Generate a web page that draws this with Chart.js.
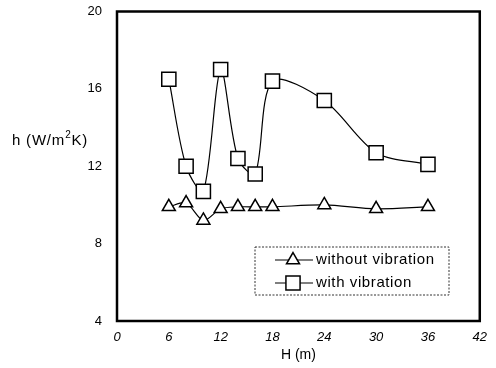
<!DOCTYPE html>
<html><head><meta charset="utf-8">
<script src="https://cdn.jsdelivr.net/npm/chart.js@4/dist/chart.umd.min.js"></script>
<style>html,body{margin:0;padding:0;background:#fff}#wrap{width:496px;height:368px;position:relative}</style>
</head><body><div id="wrap"><canvas id="c" width="496" height="368"></canvas></div>
<script>
const H = [6, 8, 10, 12, 14, 16, 18, 24, 30, 36];
const withoutVibration = [9.9, 10.1, 9.2, 9.8, 9.9, 9.9, 9.9, 10.0, 9.8, 9.9];
const withVibration = [16.5, 12.0, 10.7, 17.0, 12.4, 11.6, 16.4, 15.4, 12.7, 12.1];
const xTicks = [0, 6, 12, 18, 24, 30, 36, 42];
const yTicks = [4, 8, 12, 16, 20];
const seriesNames = ['without vibration', 'with vibration'];
const yTitleParts = ['h (W/m', '2', 'K)'];
const xTitle = 'H (m)';

const FONT = 'Liberation Sans, Arial, sans-serif';

const frame = {
  id: 'frame',
  afterDatasetsDraw(chart) {
    const a = chart.chartArea, ctx = chart.ctx;
    ctx.save();
    ctx.strokeStyle = '#000'; ctx.lineWidth = 2.5;
    ctx.strokeRect(a.left, a.top, a.right - a.left, a.bottom - a.top);
    // y title horizontal with superscript
    ctx.fillStyle = '#000';
    ctx.textAlign = 'left'; ctx.textBaseline = 'alphabetic';
    ctx.letterSpacing = '0.8px';
    ctx.font = '15px ' + FONT;
    let x = 12, base = 145;
    ctx.fillText(yTitleParts[0], x, base);
    x += ctx.measureText(yTitleParts[0]).width;
    ctx.font = '10px ' + FONT;
    ctx.fillText(yTitleParts[1], x, base - 7);
    x += ctx.measureText(yTitleParts[1]).width;
    ctx.font = '15px ' + FONT;
    ctx.fillText(yTitleParts[2], x, base);
    // legend
    const lx = 255, ly = 247, lw = 194, lh = 48;
    ctx.lineWidth = 1; ctx.setLineDash([2, 1.5]);
    ctx.strokeStyle = '#333';
    ctx.strokeRect(lx, ly, lw, lh);
    ctx.setLineDash([]);
    ctx.letterSpacing = '0.6px';
    chart.data.datasets.forEach((ds, i) => {
      const y = ly + 13 + i * 23;
      ctx.strokeStyle = '#000'; ctx.lineWidth = 1.2;
      ctx.beginPath(); ctx.moveTo(275, y); ctx.lineTo(313, y); ctx.stroke();
      ctx.fillStyle = '#fff'; ctx.strokeStyle = '#000'; ctx.lineWidth = 1.5;
      Chart.helpers.drawPoint(ctx, {pointStyle: ds.pointStyle, radius: ds.pointRadius, rotation: 0, borderWidth: 1.5}, 293, y);
      ctx.fillStyle = '#000';
      ctx.font = '15px ' + FONT;
      ctx.textAlign = 'left'; ctx.textBaseline = 'middle';
      ctx.fillText(ds.label, 316, y);
    });
    ctx.restore();
  }
};

new Chart(document.getElementById('c'), {
  type: 'line',
  data: {
    datasets: [
      { label: seriesNames[0], data: H.map((h, i) => ({x: h, y: withoutVibration[i]})),
        borderColor: '#000', borderWidth: 1.2, pointStyle: 'triangle', pointRadius: 7.5,
        pointBackgroundColor: '#fff', pointBorderColor: '#000', pointBorderWidth: 1.5, tension: 0.3 },
      { label: seriesNames[1], data: H.map((h, i) => ({x: h, y: withVibration[i]})),
        borderColor: '#000', borderWidth: 1.2, pointStyle: 'rect', pointRadius: 10,
        pointBackgroundColor: '#fff', pointBorderColor: '#000', pointBorderWidth: 1.5, tension: 0.3 }
    ]
  },
  options: {
    responsive: false, animation: false,
    layout: { padding: { top: 0, right: 15, left: 0, bottom: 0 } },
    plugins: { legend: { display: false }, tooltip: { enabled: false } },
    scales: {
      x: {
        type: 'linear', min: 0, max: 42,
        afterBuildTicks: s => { s.ticks = xTicks.map(v => ({value: v})); },
        afterFit: s => { s.height = 47; },
        grid: { display: false, drawTicks: false },
        border: { display: false },
        ticks: { color: '#000', padding: 9, font: { family: FONT, size: 13, style: 'italic' }, maxRotation: 0 },
        title: { display: true, text: xTitle, color: '#000', font: { family: FONT, size: 14 }, padding: { top: 7 } }
      },
      y: {
        type: 'linear', min: 4, max: 20,
        afterBuildTicks: s => { s.ticks = yTicks.map(v => ({value: v})); },
        afterFit: s => { s.width = 117; },
        grid: { display: true, drawOnChartArea: false, drawTicks: true, tickLength: 12, color: 'rgba(0,0,0,0)' },
        border: { display: false },
        ticks: { color: '#000', padding: 3, font: { family: FONT, size: 13 } }
      }
    }
  },
  plugins: [frame]
});
</script></body></html>
